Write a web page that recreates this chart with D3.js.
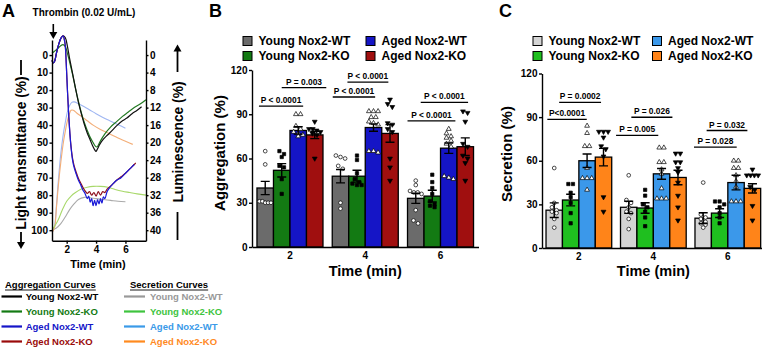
<!DOCTYPE html>
<html><head><meta charset="utf-8">
<script src="https://cdn.jsdelivr.net/npm/d3@7/dist/d3.min.js"></script>
<style>html,body{margin:0;padding:0;background:#fff;overflow:hidden}</style>
</head><body>
<svg id="chart" width="762" height="348"></svg>
<script>
// ================= DATA =================
const timeGroups = ["2", "4", "6"];
const seriesNames = ["Young Nox2-WT", "Young Nox2-KO", "Aged Nox2-WT", "Aged Nox2-KO"];
const yTicksBar = [0, 30, 60, 90, 120];

// Panel B: aggregation (%)
const aggMeans = [[40, 52, 79, 76], [48, 48, 81, 77], [33, 34.5, 67, 68]];
const aggSems  = [[4.5, 4.5, 2.5, 2.5], [4.5, 4, 2.5, 6], [3.4, 4, 3.5, 6]];
const aggPoints = [
  [[65, 56, 31, 30, 30, 31, 30], [65, 63, 61, 55, 54, 46, 36], [90, 90, 82, 80, 78, 77, 76, 75], [85, 80, 80, 79, 78, 77, 76, 60]],
  [[62, 61, 60, 55, 53, 30, 26], [62, 59, 50, 46, 44, 43, 42, 42], [92, 92, 92, 88, 88, 85, 84, 83, 65, 65, 64], [100, 97, 95, 84, 83, 80, 78, 60, 54, 45]],
  [[45, 42, 38, 37, 37, 36, 25, 18, 16], [49, 44, 40, 36, 31, 29, 28, 27], [80, 77, 75, 74, 72, 70, 68, 48, 47, 46], [92, 91, 85, 70, 68, 62, 60, 57, 45]]
];
// [group, from bar index, to bar index, level (%), label]
const aggBrackets = [
  ["2", 0.12, 2.8, 95.5, "P < 0.0001"], ["2", 1.5, 4.2, 108, "P = 0.003"],
  ["4", 0.03, 2.6, 101.7, "P < 0.0001"], ["4", 0.92, 3.4, 111.8, "P < 0.0001"],
  ["6", 0.0, 2.9, 85.5, "P < 0.0001"], ["6", 0.8, 3.67, 98, "P < 0.0001"]
];

// Panel C: secretion (%)
const secMeans = [[26, 33, 60, 62.5], [28, 27.5, 51, 48.5], [20.5, 24, 45, 41]];
const secSems  = [[5, 4, 4.6, 6], [4.2, 3.6, 3.7, 5], [3.7, 3, 5, 3.2]];
const secPoints = [
  [[55, 31, 28, 26, 25, 24, 20, 14], [44, 44, 38, 35, 31, 24, 17], [84, 79, 70, 70, 55, 48, 48, 48, 40], [80, 80, 80, 76, 70, 68, 63, 35, 25]],
  [[50, 33, 31, 28, 25, 24, 20, 13], [40, 36, 30, 28, 25, 21, 15], [69, 69, 59, 59, 54, 51, 41, 34, 34, 34], [65, 65, 59, 59, 55, 52, 45, 36, 28, 19]],
  [[45, 23, 21, 20, 18, 17, 16, 14], [32, 32, 30, 28, 24, 21, 17], [60, 60, 55, 55, 50, 46, 42, 32, 32, 32], [54, 50, 50, 50, 50, 42, 40, 29, 19]]
];
const secBrackets = [
  ["2", 0.08, 2.48, 88.4, "P<0.0001"], ["2", 0.8, 3.35, 100.2, "P = 0.0002"],
  ["4", -0.27, 2.3, 77.4, "P = 0.005"], ["4", 0.66, 3.16, 89.9, "P = 0.026"],
  ["6", -0.06, 2.54, 69.4, "P = 0.028"], ["6", 0.71, 3.19, 80.8, "P = 0.032"]
];

// Panel A: traces, [time (min), light transmittance %]
const aggTraceYoungWT = [[1.0,3],[1.08,4.5],[1.18,3.5],[1.3,-1],[1.45,-6],[1.6,-9.5],[1.75,-11],[1.9,-10],[2.05,-5],[2.2,2],[2.4,10.5],[2.6,19],[2.8,27],[3.0,33.5],[3.2,39.5],[3.4,44.5],[3.6,48.5],[3.75,51.5],[3.9,54],[4.0,55],[4.1,53.5],[4.25,51],[4.5,48],[4.8,45.5],[5.1,43],[5.45,40],[5.8,37.5],[6.1,36],[6.45,33.5],[6.8,31.5],[7.1,29.5]];
const aggTraceYoungKO = [[1.0,-1],[1.15,-2],[1.35,-3.5],[1.55,-5],[1.75,-6],[1.9,-5],[2.05,-1],[2.2,4],[2.4,11],[2.6,19],[2.8,26.5],[3.0,33],[3.2,38.5],[3.4,43],[3.6,47],[3.8,50],[3.95,52],[4.05,52.5],[4.15,51.5],[4.3,49],[4.6,45],[5.0,41],[5.4,38],[5.8,35],[6.2,32.5],[6.6,30],[7.0,28],[7.4,25.5]];
const aggTraceAgedWT = [[1.0,3],[1.08,4.5],[1.18,3.5],[1.3,-1],[1.45,-6],[1.6,-9.5],[1.75,-11],[1.88,-7],[1.97,5],[2.05,20],[2.13,33],[2.22,45],[2.3,53],[2.4,60],[2.5,64],[2.65,68],[2.8,71.5],[2.95,74],[3.1,77],[3.25,79],[3.4,82],[3.5,80.5],[3.6,84],[3.7,82],[3.8,86],[3.9,83],[4.0,86],[4.1,82.5],[4.2,85],[4.3,82],[4.4,84.5],[4.5,81],[4.6,82],[4.75,78],[4.9,76],[5.1,74],[5.4,71.5],[5.7,70],[6.0,67.5],[6.3,65],[6.6,62.5]];
const aggTraceAgedKO = [[1.0,3],[1.08,4.5],[1.18,3.5],[1.3,-1],[1.45,-6],[1.6,-9.5],[1.75,-11],[1.88,-7],[1.97,5],[2.05,20],[2.13,33],[2.22,45],[2.3,52.5],[2.4,59],[2.5,63],[2.65,67],[2.8,70.5],[2.95,73],[3.1,75.5],[3.25,77.5],[3.4,79],[3.55,78],[3.7,80],[3.85,78.5],[4.0,80.5],[4.15,78],[4.3,80],[4.45,78],[4.6,78.5],[4.75,76.5],[4.9,75.5],[5.1,74],[5.4,71.5],[5.7,69.5],[6.0,67.5],[6.3,65],[6.6,62.5],[6.7,61.5]];
// [time (min), luminescence %]
const secTraceYoungWT = [[1.0,40],[1.3,39.5],[1.6,38.5],[1.9,37],[2.2,35.3],[2.5,34],[2.8,33],[3.2,32.5],[3.6,32.6],[4.0,32.8],[4.5,33],[5.0,33.2],[5.5,33.4],[6.0,33.5]];
const secTraceYoungKO = [[1.0,40],[1.2,39],[1.4,37.8],[1.7,35.4],[2.0,33.4],[2.3,32.2],[2.6,31.4],[3.0,30.6],[3.4,30.2],[3.8,30],[4.3,30],[4.8,30.2],[5.3,30.7],[5.8,31.1],[6.3,31.4],[6.8,31.7],[7.4,32]];
const secTraceAgedWT = [[1.0,40.5],[1.1,40],[1.2,38.5],[1.3,34.5],[1.4,30],[1.5,26],[1.6,22.5],[1.75,18.5],[1.9,15.5],[2.05,13],[2.2,11.5],[2.35,10.8],[2.5,10.7],[2.8,11.1],[3.2,11.8],[3.6,12.6],[4.0,13.4],[4.5,14.3],[5.0,15.1],[5.5,15.9],[6.0,16.7]];
const secTraceAgedKO = [[1.0,40.5],[1.1,40],[1.2,39],[1.3,35],[1.4,31],[1.5,27.5],[1.6,24.5],[1.75,20.5],[1.9,17.5],[2.05,15],[2.2,13.3],[2.3,12.6],[2.45,12.6],[2.7,13.3],[3.0,14],[3.4,15],[3.8,16],[4.3,17],[4.8,17.8],[5.3,18.6],[5.8,19.4],[6.5,20.4]];
const leftTicksA = [0,10,20,30,40,50,60,70,80,90,100];
const rightTicksA = [0,4,8,12,16,20,24,28,32,36,40];
const timeTicksA = [2,4,6];

// ================= STYLE =================
const F = '"Liberation Sans", Arial, Helvetica, sans-serif';
const aggBarColors = ["#6b6b6b", "#137a13", "#1515c6", "#a00f0f"];
const secBarColors = ["#d4d4d4", "#1fbf1f", "#3b98ea", "#ff8419"];
const aggLineColors = ["#111111", "#237a23", "#1a1ad8", "#8e0f1c"];
const secLineColors = ["#aaaaaa", "#a8d86a", "#9fb6f2", "#f3ae78"];
const aggLegendText = ["#000000", "#137a13", "#1515c8", "#9a0a0a"];
const secLegendText = ["#999999", "#3ec43e", "#3a9ae8", "#ff8a1f"];

const svg = d3.select("#chart");
svg.append("rect").attr("width", 762).attr("height", 348).attr("fill", "#fff");

function txt(g, x, y, s, size, opt = {}) {
  return g.append("text").attr("x", x).attr("y", y).text(s)
    .attr("font-family", F).attr("font-weight", "bold").attr("font-size", size)
    .attr("fill", opt.fill || "#000").attr("text-anchor", opt.anchor || "start");
}
function styleAxis(g, fs) {
  g.attr("font-family", F).attr("font-size", fs).attr("font-weight", "bold");
  g.selectAll("path,line").attr("stroke", "#000").attr("stroke-width", 1.4);
  g.selectAll("text").attr("fill", "#000");
}
function arrowHead(g, x, y, dir) { // dir 1 = down, -1 = up
  g.append("path").attr("d", `M${x - 4},${y - dir * 7} L${x + 4},${y - dir * 7} L${x},${y} Z`).attr("fill", "#000");
}

// ================= PANEL A =================
const gA = svg.append("g");
const xA = d3.scaleLinear().domain([1, 7.4]).range([52, 146]);
const yA = d3.scaleLinear().domain([-8.6, 106]).range([40, 240.7]);
const yAR = d3.scaleLinear().domain([-8.6 * 0.4, 106 * 0.4]).range([40, 240.7]);
const lineGen = ys => d3.line().x(d => xA(d[0])).y(d => ys(d[1])).curve(d3.curveCatmullRom.alpha(0.5));

[[secTraceYoungWT, 0], [secTraceAgedWT, 2], [secTraceAgedKO, 3], [secTraceYoungKO, 1]].forEach(([c, ci]) => {
  gA.append("path").attr("d", lineGen(yAR)(c)).attr("fill", "none")
    .attr("stroke", secLineColors[ci]).attr("stroke-width", 1.1);
});
[[aggTraceYoungKO, 1], [aggTraceYoungWT, 0], [aggTraceAgedKO, 3], [aggTraceAgedWT, 2]].forEach(([c, ci]) => {
  gA.append("path").attr("d", lineGen(yA)(c)).attr("fill", "none")
    .attr("stroke", aggLineColors[ci]).attr("stroke-width", 1.2).attr("stroke-linejoin", "round");
});

styleAxis(gA.append("g").attr("transform", "translate(52,0)")
  .call(d3.axisLeft(yA).tickValues(leftTicksA).tickSize(2.5).tickPadding(1.5).tickSizeOuter(0)), 10);
styleAxis(gA.append("g").attr("transform", "translate(146,0)")
  .call(d3.axisRight(yAR).tickValues(rightTicksA).tickSize(2.5).tickPadding(1.5).tickSizeOuter(0)), 10);
styleAxis(gA.append("g").attr("transform", "translate(0,240.7)")
  .call(d3.axisBottom(xA).tickValues(timeTicksA).tickFormat(d3.format("d")).tickSize(3).tickPadding(2).tickSizeOuter(0)), 10);

txt(gA, 2, 17, "A", 18);
txt(gA, 84, 15.5, "Thrombin (0.02 U/mL)", 10, { anchor: "middle" });
gA.append("line").attr("x1", 53.3).attr("x2", 53.3).attr("y1", 24).attr("y2", 33).attr("stroke", "#000").attr("stroke-width", 1.6);
arrowHead(gA, 53.3, 39, 1);
txt(gA, 98, 268, "Time (min)", 11, { anchor: "middle" });

// left axis title with arrow
txt(gA, 0, 0, "Light transmittance (%)", 13.8, { anchor: "middle" }).attr("transform", "translate(26,153) rotate(-90)");
gA.append("line").attr("x1", 21).attr("x2", 21).attr("y1", 60).attr("y2", 75).attr("stroke", "#000").attr("stroke-width", 1.8);
gA.append("line").attr("x1", 21).attr("x2", 21).attr("y1", 232).attr("y2", 243).attr("stroke", "#000").attr("stroke-width", 1.8);
arrowHead(gA, 21, 249, 1);
// right axis title with arrow
txt(gA, 0, 0, "Luminescence (%)", 13.8, { anchor: "middle" }).attr("transform", "translate(182.5,142) rotate(-90)");
gA.append("line").attr("x1", 177.5).attr("x2", 177.5).attr("y1", 51).attr("y2", 72).attr("stroke", "#000").attr("stroke-width", 1.8);
arrowHead(gA, 177.5, 44.5, -1);
gA.append("line").attr("x1", 177.5).attr("x2", 177.5).attr("y1", 212).attr("y2", 240).attr("stroke", "#000").attr("stroke-width", 1.8);

// legends of panel A
function lineLegend(x, lineX, textX, title, colors, textColors) {
  const h = txt(gA, x, 288, title, 9.5);
  const w = h.node().getComputedTextLength();
  gA.append("line").attr("x1", x).attr("x2", x + w).attr("y1", 290).attr("y2", 290).attr("stroke", "#000").attr("stroke-width", 0.9);
  seriesNames.forEach((s, i) => {
    const cy = 296.5 + i * 15;
    gA.append("line").attr("x1", lineX[0]).attr("x2", lineX[1]).attr("y1", cy).attr("y2", cy)
      .attr("stroke", colors[i]).attr("stroke-width", 2.2);
    txt(gA, textX, cy + 3.5, s, 9.5, { fill: textColors[i] });
  });
}
lineLegend(5, [1.5, 22], 25.7, "Aggregation Curves", aggLegendText, aggLegendText);
lineLegend(130, [124, 145], 150, "Secretion Curves", secLegendText, secLegendText);

// ================= BAR PANELS =================
const markerTypes = [d3.symbolCircle, d3.symbolSquare, d3.symbolTriangle, d3.symbolTriangle];
const markerFill = ["#fff", "#000", "#fff", "#000"];
const markerSize = [11, 11, 10, 10];

function swarm(vals, y, cx, half) {
  const sorted = vals.slice().sort((a, b) => b - a);
  const clusters = [];
  let cur = [];
  sorted.forEach(v => {
    if (cur.length && Math.abs(y(cur[0]) - y(v)) > 4) { clusters.push(cur); cur = []; }
    cur.push(v);
  });
  if (cur.length) clusters.push(cur);
  const out = [];
  clusters.forEach(c => {
    const n = c.length;
    const sp = n > 1 ? Math.min(4.6, (2 * half) / (n - 1)) : 0;
    c.forEach((v, k) => out.push({ v, x: cx + (k - (n - 1) / 2) * sp }));
  });
  return out;
}

function barPanel(o) {
  const g = svg.append("g");
  const y = d3.scaleLinear().domain([0, 120]).range([o.y0, o.y120]);
  const x0 = d3.scaleBand().domain(timeGroups).range([o.xl, o.xr]).paddingInner(o.pi).paddingOuter(o.po);
  const x1 = d3.scaleBand().domain(d3.range(seriesNames.length)).range([0, x0.bandwidth()]);
  const bw = x1.bandwidth();

  timeGroups.forEach((tg, gi) => {
    seriesNames.forEach((s, si) => {
      const m = o.means[gi][si];
      g.append("rect").attr("x", x0(tg) + x1(si)).attr("y", y(m)).attr("width", bw).attr("height", y(0) - y(m))
        .attr("fill", o.colors[si]).attr("stroke", "#000").attr("stroke-width", 1.3);
    });
  });
  timeGroups.forEach((tg, gi) => {
    seriesNames.forEach((s, si) => {
      const cx = x0(tg) + x1(si) + bw / 2;
      swarm(o.points[gi][si], y, cx, bw / 2 - 2.5).forEach(p => {
        g.append("path").attr("d", d3.symbol().type(markerTypes[si]).size(markerSize[si])())
          .attr("transform", `translate(${p.x},${y(p.v)})` + (si === 3 ? " rotate(180)" : ""))
          .attr("fill", markerFill[si]).attr("stroke", "#000").attr("stroke-width", 0.7);
      });
    });
  });
  timeGroups.forEach((tg, gi) => {
    seriesNames.forEach((s, si) => {
      const cx = x0(tg) + x1(si) + bw / 2, m = o.means[gi][si], e = o.sems[gi][si];
      const lo = y(m - e), hi = y(m + e);
      g.append("path").attr("d", `M${cx},${lo}V${hi}M${cx - 4.5},${hi}H${cx + 4.5}M${cx - 4.5},${lo}H${cx + 4.5}`)
        .attr("stroke", "#000").attr("stroke-width", 1.4).attr("fill", "none");
    });
  });
  // brackets
  o.brackets.forEach(([tg, a, b, lvl, lab]) => {
    const xa = x0(tg) + a * bw, xb = x0(tg) + b * bw, yy = y(lvl);
    g.append("line").attr("x1", xa).attr("x2", xb).attr("y1", yy).attr("y2", yy).attr("stroke", "#000").attr("stroke-width", 1.3);
    txt(g, (xa + xb) / 2, yy - 3, lab, 8.4, { anchor: "middle" });
  });
  // axes
  styleAxis(g.append("g").attr("transform", `translate(${o.xl},0)`)
    .call(d3.axisLeft(y).tickValues(yTicksBar).tickSize(3).tickPadding(1.5).tickSizeOuter(0)), 10);
  styleAxis(g.append("g").attr("transform", `translate(0,${y(0)})`)
    .call(d3.axisBottom(x0).tickSize(0).tickPadding(5).tickSizeOuter(0)), 10);
  // titles
  txt(g, 0, 0, o.ylabel, 15, { anchor: "middle" }).attr("transform", `translate(${o.ylabX},${o.ylabY}) rotate(-90)`);
  txt(g, (o.xl + o.xr) / 2, 275.5, "Time (min)", 14.5, { anchor: "middle" });
  txt(g, o.letterX, 17, o.letter, 18);
  // legend
  seriesNames.forEach((s, si) => {
    const col = si < 2 ? 0 : 1, row = si % 2;
    const sx = o.legX[col], sy = 36.5 + row * 15;
    g.append("rect").attr("x", sx).attr("y", sy).attr("width", 9).attr("height", 9)
      .attr("fill", o.colors[si]).attr("stroke", "#000").attr("stroke-width", 1);
    txt(g, sx + 15.5, sy + 8.7, s, 12);
  });
}

barPanel({
  xl: 252, xr: 478.5, pi: 0.123, po: 0.066, y0: 247, y120: 70,
  means: aggMeans, sems: aggSems, points: aggPoints, colors: aggBarColors, brackets: aggBrackets,
  ylabel: "Aggregation (%)", ylabX: 225, ylabY: 153, letter: "B", letterX: 209, legX: [243, 366]
});
barPanel({
  xl: 542, xr: 764.7, pi: 0.118, po: 0.054, y0: 248, y120: 73.5,
  means: secMeans, sems: secSems, points: secPoints, colors: secBarColors, brackets: secBrackets,
  ylabel: "Secretion (%)", ylabX: 511.5, ylabY: 154, letter: "C", letterX: 499, legX: [533, 652.5]
});
</script>
</body></html>
